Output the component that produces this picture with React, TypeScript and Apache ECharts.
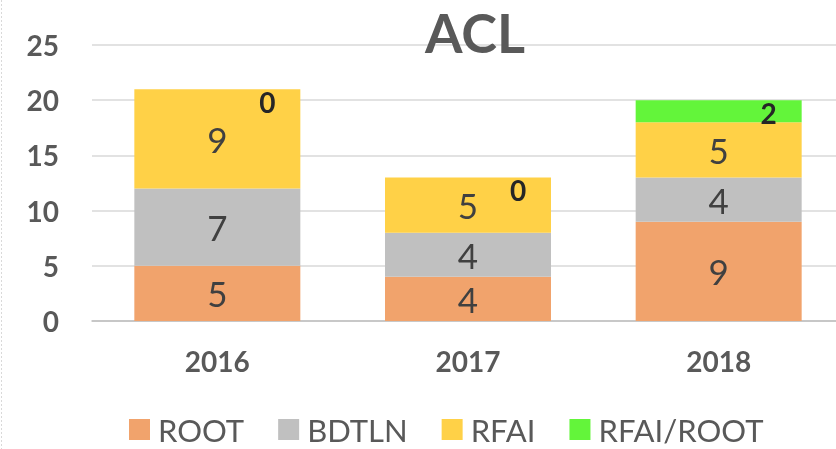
import React, { useEffect, useRef } from "react";
import * as echarts from "echarts";

const categories = ["2016", "2017", "2018"];
const seriesNames = ["ROOT", "BDTLN", "RFAI", "RFAI/ROOT"];
const rootValues = [5, 4, 9];
const bdtlnValues = [7, 4, 4];
const rfaiValues = [9, 5, 5];
const rfaiRootValues = [0, 0, 2];
const yTicks = { min: 0, max: 25, interval: 5 };

const colors = ["#F1A36C", "#C0C0C0", "#FFD147", "#63F53A"];
const FONT = "Lato, 'Open Sans', sans-serif";

export default function App() {
  const ref = useRef<HTMLDivElement>(null);
  useEffect(() => {
    if (!ref.current) return;
    const chart = echarts.init(ref.current, null, { renderer: "svg" });
    const mainLabel = {
      show: true,
      position: "inside",
      fontSize: 35,
      lineHeight: 35,
      fontFamily: FONT,
      color: "#404040",
    };
    const values = [rootValues, bdtlnValues, rfaiValues, rfaiRootValues];
    chart.setOption({
      animation: false,
      title: {
        text: "ACL",
        left: 470,
        top: 0,
        textAlign: "center",
        textStyle: {
          fontSize: 54,
          fontWeight: "bold",
          fontFamily: FONT,
          color: "#595959",
        },
      },
      legend: {
        top: 414,
        left: 129,
        padding: 0,
        itemWidth: 21,
        itemHeight: 21,
        itemGap: 34,
        icon: "rect",
        textStyle: {
          fontSize: 31,
          lineHeight: 31,
          fontFamily: FONT,
          color: "#595959",
          padding: [0, 0, 0, 3],
        },
        data: seriesNames,
      },
      grid: { left: 92, right: 4, top: 45, bottom: 128 },
      xAxis: {
        type: "category",
        data: categories,
        axisLine: { lineStyle: { color: "#BFBFBF", width: 1.5 } },
        axisTick: { show: false },
        axisLabel: {
          fontSize: 28,
          fontWeight: "bold",
          fontFamily: FONT,
          color: "#595959",
          margin: 26,
        },
      },
      yAxis: {
        type: "value",
        min: yTicks.min,
        max: yTicks.max,
        interval: yTicks.interval,
        axisLine: { show: false },
        axisTick: { show: false },
        splitLine: { lineStyle: { color: "#D9D9D9", width: 1.5 } },
        axisLabel: {
          fontSize: 28,
          fontWeight: "bold",
          fontFamily: FONT,
          color: "#595959",
          margin: 33,
        },
      },
      graphic: [
        {
          type: "line",
          shape: { x1: 1.5, y1: 0, x2: 1.5, y2: 449 },
          style: { stroke: "#D9D9D9", lineWidth: 1, lineDash: [2, 2] },
        },
      ],
      series: seriesNames.map((name, i) => ({
        name,
        type: "bar",
        stack: "total",
        data: values[i],
        barWidth: 166,
        itemStyle: { color: colors[i] },
        label:
          i === 3
            ? {
                show: true,
                position: "insideTop",
                distance: -1,
                offset: [50, 0],
                fontSize: 28,
                fontWeight: "bold",
                fontFamily: FONT,
                color: "#262626",
              }
            : mainLabel,
      })),
    });
    return () => chart.dispose();
  }, []);
  return (
    <div
      ref={ref}
      style={{ position: "fixed", left: 0, top: 0, width: 848, height: 449 }}
    />
  );
}
